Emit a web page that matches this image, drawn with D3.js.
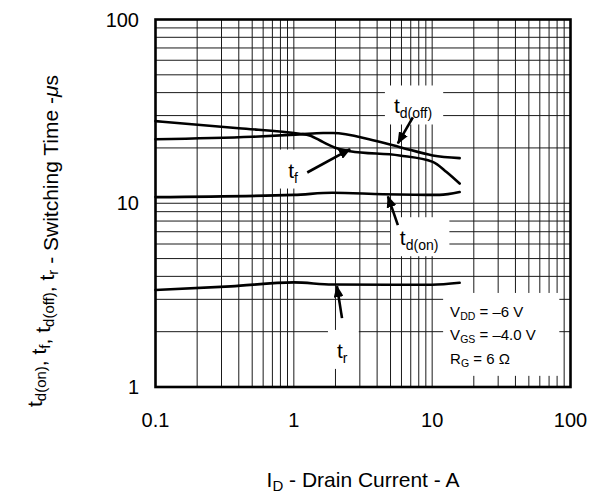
<!DOCTYPE html>
<html>
<head>
<meta charset="utf-8">
<script src="https://cdn.jsdelivr.net/npm/d3@7"></script>
<style>
  body { margin: 0; background: #fff; }
  svg { display: block; font-family: "Liberation Sans", Arial, Helvetica, sans-serif; }
</style>
</head>
<body>
<svg id="chart" width="589" height="497"></svg>
<script>
// Axis domains and tick labels
const xDomain = [0.1, 100];
const yDomain = [1, 100];
const xTickValues = [0.1, 1, 10, 100];
const xTickLabels = ["0.1", "1", "10", "100"];
const yTickValues = [1, 10, 100];
const yTickLabels = ["1", "10", "100"];

// Switching time curves (I_D in A, time in µs)
const tfCurrent   = [0.1, 0.4, 1.1, 1.3, 1.63, 2.05, 2.55, 5.8, 10.1, 12.7, 15.8];
const tfTime      = [28.0, 25.6, 23.9, 23.4, 21.5, 19.9, 19.2, 18.2, 16.8, 14.8, 12.8];
const tdOffCurrent = [0.1, 0.5, 1.1, 1.63, 1.92, 3.73, 5.84, 10.1, 15.8];
const tdOffTime    = [22.3, 23.0, 23.7, 24.1, 24.1, 22.0, 20.2, 18.2, 17.6];
const tdOnCurrent = [0.1, 1.0, 1.9, 4.4, 11.3, 15.8];
const tdOnTime    = [10.8, 11.1, 11.4, 11.2, 11.1, 11.5];
const trCurrent   = [0.1, 0.35, 1.0, 1.9, 10.0, 15.8];
const trTime      = [3.37, 3.53, 3.71, 3.61, 3.60, 3.69];

// Curve labels: text anchor and arrow (tail -> tip), in data units
const labelNames  = ["tdoff", "tf", "tdon", "tr"];
const labelMain   = ["t", "t", "t", "t"];
const labelSub    = ["d(off)", "f", "d(on)", "r"];
const labelAt     = [[5.29, 30.8], [0.91, 13.8], [5.84, 5.91], [2.05, 1.44]];
const arrowTail   = [[7.25, 29.3], [1.25, 14.7], [5.65, 7.6], [2.23, 2.37]];
const arrowTip    = [[5.65, 21.2], [2.55, 19.7], [4.79, 10.9], [2.05, 3.54]];

// Test conditions
const condMain = ["V", "V", "R"];
const condSub  = ["DD", "GS", "G"];
const condRest = [" = \u20136 V", " = \u20134.0 V", " = 6 \u03A9"];
const condBox  = [[12, 3.25], [83, 1.15]];

const svg = d3.select("#chart");
const x = d3.scaleLog().domain(xDomain).range([155.5, 570.5]);
const y = d3.scaleLog().domain(yDomain).range([387, 19.5]);
const [x0, x1] = x.range();
const [y0, y1] = y.range();

// Grid: every 1..9 step of each decade
const gx = x.ticks().filter(v => v > xDomain[0] && v < xDomain[1]);
const gy = y.ticks().filter(v => v > yDomain[0] && v < yDomain[1]);
const grid = svg.append("g").attr("stroke", "#1a1a1a").attr("stroke-width", 1);
grid.selectAll("line.gx").data(gx).join("line")
  .attr("x1", d => x(d)).attr("x2", d => x(d)).attr("y1", y0).attr("y2", y1);
grid.selectAll("line.gy").data(gy).join("line")
  .attr("y1", d => y(d)).attr("y2", d => y(d)).attr("x1", x0).attr("x2", x1);

// Arrow head
svg.append("defs").append("marker")
  .attr("id", "head").attr("viewBox", "0 0 12 10")
  .attr("refX", 11).attr("refY", 5)
  .attr("markerWidth", 12).attr("markerHeight", 10)
  .attr("markerUnits", "userSpaceOnUse").attr("orient", "auto")
  .append("path").attr("d", "M0,0 L12,5 L0,10 z").attr("fill", "#000");

// White boxes behind labels, then labels
const boxLayer = svg.append("g");
const labelLayer = svg.append("g");
labelNames.forEach((n, i) => {
  const t = labelLayer.append("text")
    .attr("x", x(labelAt[i][0])).attr("y", y(labelAt[i][1]))
    .attr("font-size", 21).attr("fill", "#000");
  t.append("tspan").text(labelMain[i]);
  t.append("tspan").attr("font-size", 14).attr("dy", 5).text(labelSub[i]);
  const b = t.node().getBBox();
  boxLayer.append("rect")
    .attr("x", b.x - 9).attr("y", b.y - 9)
    .attr("width", b.width + 20).attr("height", b.height + 12)
    .attr("fill", "#fff");
});

// Conditions box
boxLayer.append("rect")
  .attr("x", x(condBox[0][0])).attr("y", y(condBox[0][1]))
  .attr("width", x(condBox[1][0]) - x(condBox[0][0]))
  .attr("height", y(condBox[1][1]) - y(condBox[0][1]))
  .attr("fill", "#fff");
condMain.forEach((m, i) => {
  const t = labelLayer.append("text")
    .attr("x", x(condBox[0][0]) + 7)
    .attr("y", y(condBox[0][1]) + 24 + i * 23.5)
    .attr("font-size", 15).attr("fill", "#000");
  t.append("tspan").text(m);
  t.append("tspan").attr("font-size", 10.5).attr("dy", 3).text(condSub[i]);
  t.append("tspan").attr("dy", -3).text(condRest[i]);
});

// Curves
const line = d3.line().x(d => x(d[0])).y(d => y(d[1])).curve(d3.curveMonotoneX);
const series = [
  [tfCurrent, tfTime], [tdOffCurrent, tdOffTime],
  [tdOnCurrent, tdOnTime], [trCurrent, trTime]
];
svg.append("g").selectAll("path").data(series).join("path")
  .attr("d", s => line(s[0].map((c, k) => [c, s[1][k]])))
  .attr("fill", "none").attr("stroke", "#000").attr("stroke-width", 2.6)
  .attr("stroke-linecap", "round");

// Arrows
svg.append("g").selectAll("line").data(labelNames).join("line")
  .attr("x1", (d, i) => x(arrowTail[i][0])).attr("y1", (d, i) => y(arrowTail[i][1]))
  .attr("x2", (d, i) => x(arrowTip[i][0])).attr("y2", (d, i) => y(arrowTip[i][1]))
  .attr("stroke", "#000").attr("stroke-width", 2.6)
  .attr("marker-end", "url(#head)");

// Frame
svg.append("rect")
  .attr("x", x0).attr("y", y1).attr("width", x1 - x0).attr("height", y0 - y1)
  .attr("fill", "none").attr("stroke", "#000").attr("stroke-width", 2.6);

// Tick labels
svg.append("g").selectAll("text").data(xTickValues).join("text")
  .attr("x", d => x(d)).attr("y", 427)
  .attr("text-anchor", "middle").attr("font-size", 20)
  .text((d, i) => xTickLabels[i]);
svg.append("g").selectAll("text").data(yTickValues).join("text")
  .attr("x", 139).attr("y", d => y(d) + 7)
  .attr("text-anchor", "end").attr("font-size", 20)
  .text((d, i) => yTickLabels[i]);

// Axis titles
const xt = svg.append("text").attr("x", (x0 + x1) / 2).attr("y", 487)
  .attr("text-anchor", "middle").attr("font-size", 21);
xt.append("tspan").text("I");
xt.append("tspan").attr("font-size", 15).attr("dy", 4).text("D");
xt.append("tspan").attr("dy", -4).text(" - Drain Current - A");

const yt = svg.append("text")
  .attr("transform", "translate(42,241) rotate(-90)")
  .attr("text-anchor", "middle").attr("font-size", 21);
const yParts = [["t", "d(on)"], [", t", "f"], [", t", "d(off)"], [", t", "r"]];
yParts.forEach(p => {
  yt.append("tspan").attr("dy", 0).text(p[0]);
  yt.append("tspan").attr("font-size", 15).attr("dy", 4).text(p[1]);
  yt.append("tspan").attr("dy", -4).text("");
});
yt.append("tspan").text(" - Switching Time -");
yt.append("tspan").attr("font-style", "italic").text("\u03BC");
yt.append("tspan").text("s");
</script>
</body>
</html>
